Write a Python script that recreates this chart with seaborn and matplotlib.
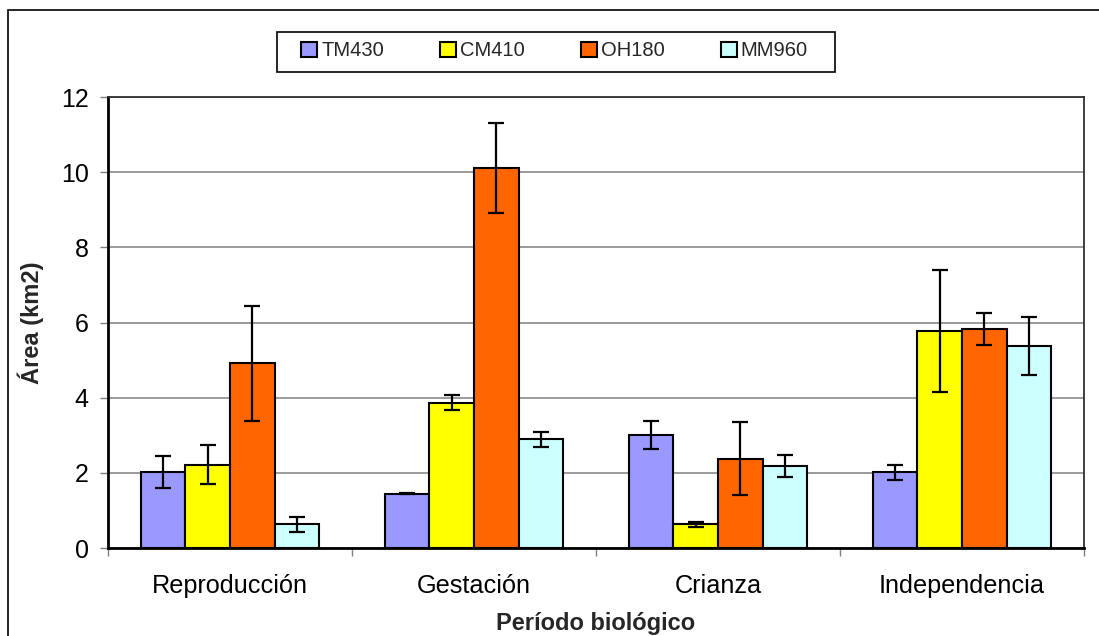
import pandas as pd
import matplotlib
matplotlib.use("Agg")
import matplotlib.pyplot as plt
from matplotlib.patches import Patch, Rectangle
from matplotlib.ticker import FixedLocator
import seaborn as sns

# =====================================================
# DATA
# =====================================================
periodos = ["Reproducción", "Gestación", "Crianza", "Independencia"]
individuos = ["TM430", "CM410", "OH180", "MM960"]

area_TM430 = [2.02, 1.45, 3.00, 2.01]
area_CM410 = [2.21, 3.87, 0.63, 5.77]
area_OH180 = [4.91, 10.12, 2.38, 5.83]
area_MM960 = [0.63, 2.89, 2.18, 5.37]

err_TM430 = [0.43, 0.02, 0.37, 0.20]
err_CM410 = [0.52, 0.19, 0.06, 1.63]
err_OH180 = [1.54, 1.20, 0.98, 0.43]
err_MM960 = [0.20, 0.19, 0.30, 0.78]

colores = ["#9999FF", "#FFFF00", "#FF6600", "#CCFFFF"]

areas = [area_TM430, area_CM410, area_OH180, area_MM960]
errores = [err_TM430, err_CM410, err_OH180, err_MM960]

rows = []
for ind, vals, errs in zip(individuos, areas, errores):
    for per, v, e in zip(periodos, vals, errs):
        rows.append({"periodo": per, "individuo": ind, "area": v, "err": e})
df = pd.DataFrame(rows)

# =====================================================
# STYLE
# =====================================================
sns.set_theme(style="white")
plt.rcParams["font.family"] = ["Liberation Sans", "DejaVu Sans"]

fig = plt.figure(figsize=(10.99, 6.36), dpi=100)
ax = fig.add_axes([108 / 1099, 1 - 548 / 636, (1084 - 108) / 1099, (548 - 97) / 636])

# =====================================================
# BARS
# =====================================================
sns.barplot(
    data=df,
    x="periodo",
    y="area",
    hue="individuo",
    order=periodos,
    hue_order=individuos,
    palette=colores,
    width=0.73,
    gap=0,
    errorbar=None,
    edgecolor="black",
    linewidth=1.5,
    saturation=1,
    legend=False,
    ax=ax,
    zorder=3,
)

# error bars on top of each bar
for cont, errs in zip(ax.containers, errores):
    for bar, e in zip(cont.patches, errs):
        x = bar.get_x() + bar.get_width() / 2
        ax.errorbar(
            x, bar.get_height(), yerr=e,
            fmt="none", ecolor="black", elinewidth=1.6,
            capsize=5.5, capthick=1.6, zorder=4,
        )

# =====================================================
# AXES
# =====================================================
ax.set_ylim(0, 12)
ax.set_xlim(-0.5, 3.5)
ax.set_yticks(range(0, 13, 2))
ax.yaxis.grid(True, color="#808080", linewidth=1.1, zorder=0)
ax.set_axisbelow(True)

ax.xaxis.set_minor_locator(FixedLocator([-0.5, 0.5, 1.5, 2.5, 3.5]))
ax.tick_params(axis="x", which="major", length=0, pad=19, labelsize=18.2, colors="black")
ax.tick_params(axis="x", which="minor", length=6, width=1, color="#808080", direction="out", bottom=True)
ax.tick_params(axis="y", length=6, width=1, color="#808080", direction="out", left=True,
               pad=8, labelsize=18, labelcolor="black")

for side in ["left", "bottom"]:
    ax.spines[side].set_color("black")
    ax.spines[side].set_linewidth(2)
for side in ["top", "right"]:
    ax.spines[side].set_color("#303030")
    ax.spines[side].set_linewidth(1.3)

ax.set_xlabel("Período biológico", fontsize=17, fontweight="bold", labelpad=10)
ax.set_ylabel("Área (km2)", fontsize=17, fontweight="bold", labelpad=12)

# =====================================================
# LEGEND
# =====================================================
handles = [Patch(facecolor=c, edgecolor="black", linewidth=1.5) for c in colores]
fig.legend(
    handles, individuos,
    loc="center",
    bbox_to_anchor=(301 / 1099, 1 - 71 / 636, (808 - 301) / 1099, 40 / 636),
    bbox_transform=fig.transFigure,
    mode="expand",
    ncol=4,
    frameon=False,
    fontsize=14.5,
    handlelength=0.8,
    handleheight=0.8,
    handletextpad=0.2,
    borderpad=0,
    borderaxespad=0,
)
fig.patches.append(Rectangle(
    (277 / 1099, 1 - 72 / 636), (835 - 277) / 1099, 40 / 636,
    transform=fig.transFigure, fill=False, edgecolor="black", linewidth=1.2,
))

# outer chart border (cut off at right and bottom like the source)
fig.patches.append(Rectangle(
    (8 / 1099, -0.2), 1.2, 1.2 - 10 / 636,
    transform=fig.transFigure, fill=False, edgecolor="black", linewidth=1.2,
))

plt.savefig("out.png", dpi=100)
plt.close()
